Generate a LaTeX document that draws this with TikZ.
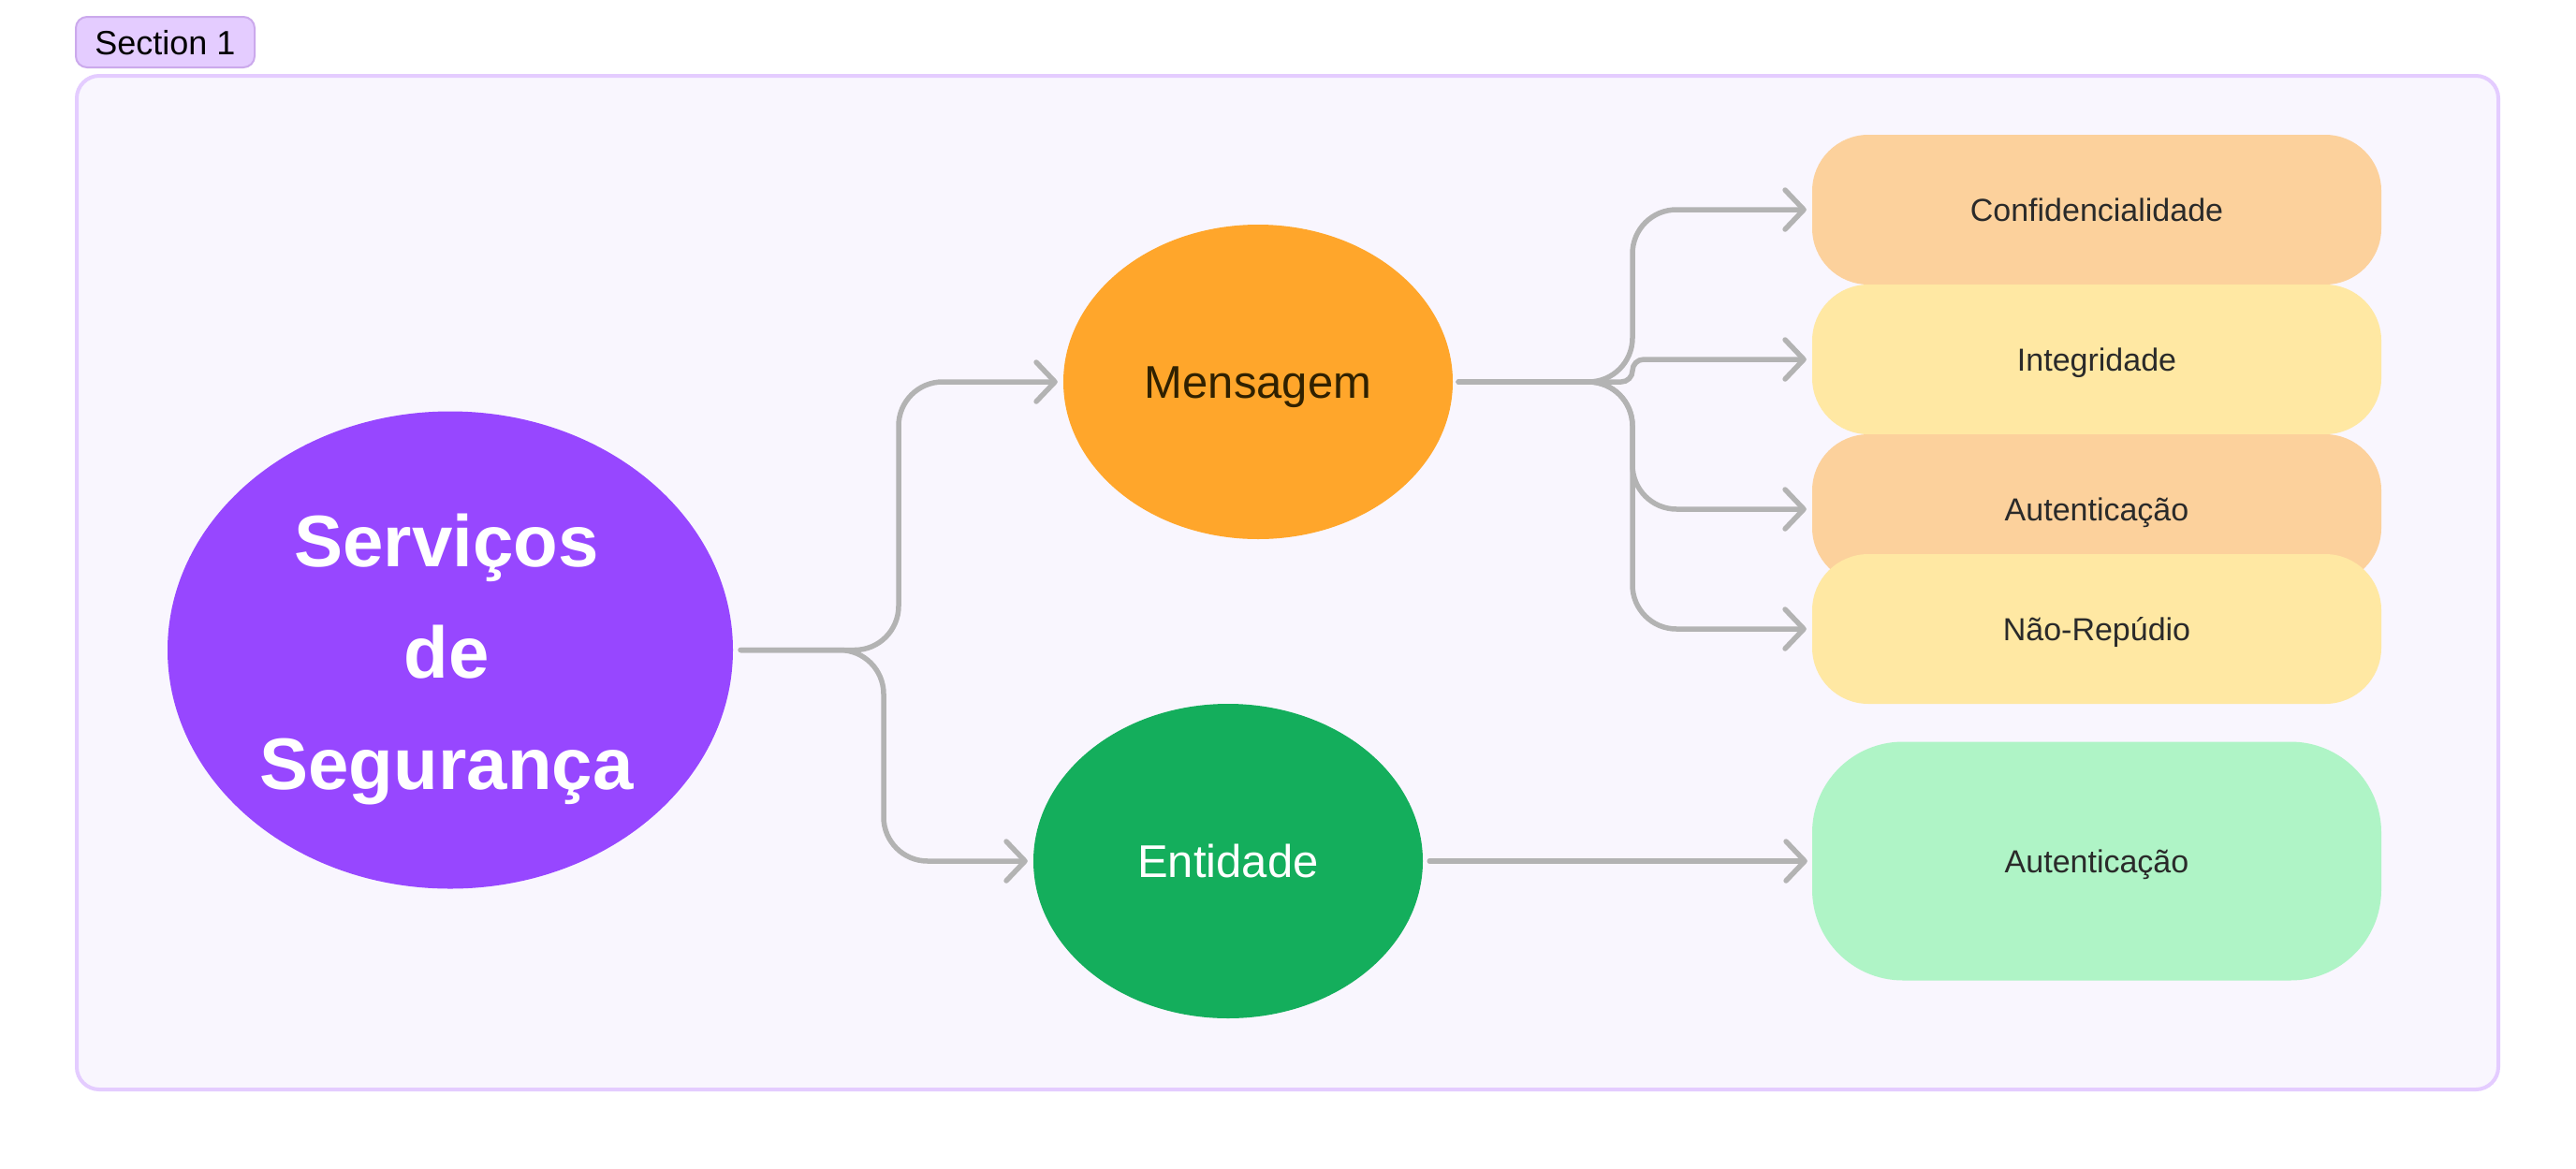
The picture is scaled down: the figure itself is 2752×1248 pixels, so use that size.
\documentclass[tikz,border=0pt]{standalone}
\usepackage{fontspec}
\setmainfont{Liberation Sans}
\usetikzlibrary{shapes.geometric,arrows.meta,calc}
\definecolor{cPurple}{HTML}{9747FF}
\definecolor{cOrange}{HTML}{FFA62B}
\definecolor{cGreen}{HTML}{14AE5C}
\definecolor{cPeach}{HTML}{FCD19C}
\definecolor{cYellow}{HTML}{FFE8A3}
\definecolor{cMint}{HTML}{AFF4C6}
\definecolor{cGray}{HTML}{B3B3B3}
\definecolor{cSecFill}{HTML}{F9F6FE}
\definecolor{cSecBorder}{HTML}{E4CCFF}
\definecolor{cLabFill}{HTML}{E4CCFF}
\definecolor{cLabBorder}{HTML}{CBA9EC}
\definecolor{cMsgText}{HTML}{302100}
\definecolor{cText}{HTML}{2A2A2A}
\begin{document}
\begin{tikzpicture}[x=1pt,y=-1pt,
  container/.style={rectangle, draw=cSecBorder, fill=cSecFill, line width=4pt, rounded corners=24pt, inner sep=0pt},
  seclabel/.style={rectangle, draw=cLabBorder, fill=cLabFill, line width=2pt, rounded corners=12pt, inner sep=0pt,
    minimum width=191pt, minimum height=54pt, font=\fontsize{36}{42}\selectfont, text=black, text height=26pt, text depth=0pt},
  blob/.style={ellipse, inner sep=0pt},
  midtext/.style={font=\fontsize{49}{58}\selectfont, text height=35pt, text depth=0pt},
  titletxt/.style={align=center, text=white, font=\fontsize{78}{119}\selectfont\bfseries, inner sep=0pt},
  item/.style={rectangle, minimum width=608pt, minimum height=160pt, rounded corners=60pt, inner sep=0pt,
    font=\fontsize{34}{40}\selectfont, text=cText, text height=24pt, text depth=0pt},
  conn/.style={draw=cGray, line width=5.5pt, line cap=round, line join=round, rounded corners=47pt,
    -{Straight Barb[length=20pt,width=42pt,round]}}
]
\useasboundingbox (0,0) rectangle (2752,1248);
\fill[white] (0,0) rectangle (2752,1248);

% section
\node[container, minimum width=2587pt, minimum height=1083pt] (sec) at (1375.5,622.5) {};
\node[seclabel] (lab) at (176.5,45) {Section 1};

% main nodes
\node[blob, fill=cPurple, minimum width=604pt, minimum height=510pt] (pur) at (481,694.5) {};
\node[titletxt] (purt) at (477,704) {Serviços\\de\\Segurança};
\node[blob, midtext, fill=cOrange, text=cMsgText, minimum width=416pt, minimum height=336pt] (msg) at (1344,408) {Mensagem};
\node[blob, midtext, fill=cGreen, text=white, minimum width=416pt, minimum height=336pt] (ent) at (1312,920) {Entidade};

% leaves
\node[item, fill=cPeach] (c1) at (2240,224) {Confidencialidade};
\node[item, fill=cYellow] (c2) at (2240,384) {Integridade};
\node[item, fill=cPeach] (c3) at (2240,544) {Autenticação};
\node[item, fill=cYellow] (c4) at (2240,672) {Não-Repúdio};
\node[item, fill=cMint, minimum height=255pt, rounded corners=97pt] (e1) at (2240,920) {Autenticação};

% bend columns
\coordinate (vA) at (960,0);
\coordinate (vB) at (944,0);
\coordinate (vC) at (1744,0);

% connectors
\draw[conn] ([xshift=8pt]pur.east) -- (pur.east -| vA) |- ([xshift=-6pt]msg.west);
\draw[conn] ([xshift=8pt]pur.east) -- (pur.east -| vB) |- ([xshift=-6pt]ent.west);
\draw[conn] ([xshift=6pt]msg.east) -- (msg.east -| vC) |- ([xshift=-6pt]c1.west);
\draw[conn, rounded corners=12pt] ([xshift=6pt]msg.east) -- (msg.east -| vC) |- ([xshift=-6pt]c2.west);
\draw[conn] ([xshift=6pt]msg.east) -- (msg.east -| vC) |- ([xshift=-6pt]c3.west);
\draw[conn] ([xshift=6pt]msg.east) -- (msg.east -| vC) |- ([xshift=-6pt]c4.west);
\draw[conn] ([xshift=7pt]ent.east) -- ([xshift=-5pt]e1.west);
\end{tikzpicture}
\end{document}
